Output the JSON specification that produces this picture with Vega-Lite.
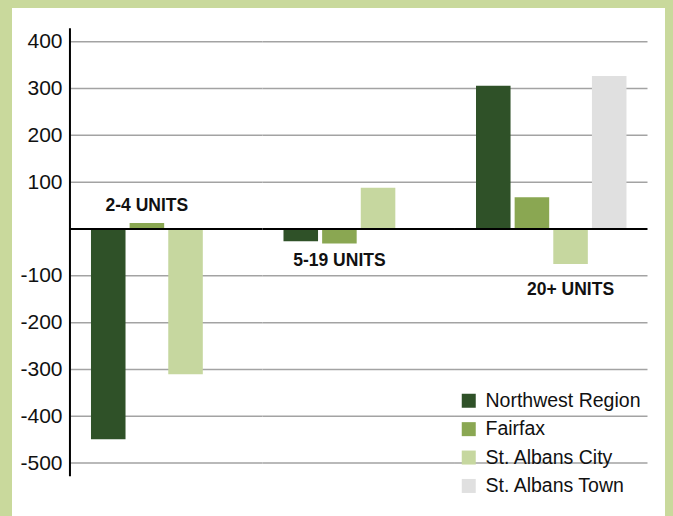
{
  "$schema": "https://vega.github.io/schema/vega-lite/v6.json",
  "width": 653,
  "height": 508,
  "autosize": {"type": "none"},
  "padding": {"left": 12, "right": 8, "top": 8, "bottom": 0},
  "background": "#c9d99c",
  "config": {
    "view": {"fill": "#ffffff", "stroke": null},
    "font": "Liberation Sans, Arial, sans-serif",
    "locale": {"number": {"decimal": ".", "thousands": ",", "grouping": [3], "currency": ["$", ""], "minus": "-"}}
  },
  "resolve": {"axis": {"y": "independent"}},
  "datasets": {
    "bars": [
      {"category": "2-4 UNITS", "series": "Northwest Region", "value": -449},
      {"category": "2-4 UNITS", "series": "Fairfax", "value": 13},
      {"category": "2-4 UNITS", "series": "St. Albans City", "value": -310},
      {"category": "5-19 UNITS", "series": "Northwest Region", "value": -26},
      {"category": "5-19 UNITS", "series": "Fairfax", "value": -31},
      {"category": "5-19 UNITS", "series": "St. Albans City", "value": 88},
      {"category": "20+ UNITS", "series": "Northwest Region", "value": 306},
      {"category": "20+ UNITS", "series": "Fairfax", "value": 68},
      {"category": "20+ UNITS", "series": "St. Albans City", "value": -75},
      {"category": "20+ UNITS", "series": "St. Albans Town", "value": 327}
    ],
    "grid": [
      {"g": 400, "cats": ["2-4 UNITS", "5-19 UNITS", "20+ UNITS"]},
      {"g": 300, "cats": ["2-4 UNITS", "5-19 UNITS", "20+ UNITS"]},
      {"g": 200, "cats": ["2-4 UNITS", "5-19 UNITS", "20+ UNITS"]},
      {"g": 100, "cats": ["2-4 UNITS", "5-19 UNITS", "20+ UNITS"]},
      {"g": -100, "cats": ["2-4 UNITS", "5-19 UNITS", "20+ UNITS"]},
      {"g": -200, "cats": ["2-4 UNITS", "5-19 UNITS", "20+ UNITS"]},
      {"g": -300, "cats": ["2-4 UNITS", "5-19 UNITS", "20+ UNITS"]},
      {"g": -400, "cats": ["2-4 UNITS", "5-19 UNITS", "20+ UNITS"]},
      {"g": -500, "cats": ["2-4 UNITS", "5-19 UNITS", "20+ UNITS"]}
    ],
    "zero": [
      {"g": 0, "cats": ["2-4 UNITS", "5-19 UNITS", "20+ UNITS"]}
    ],
    "yaxis": [
      {"first": "2-4 UNITS", "top": 429, "bottom": -528}
    ],
    "labels": [
      {"category": "2-4 UNITS", "series": "Fairfax", "label": "2-4 UNITS", "ly": 49},
      {"category": "5-19 UNITS", "series": "Fairfax", "label": "5-19 UNITS", "ly": -68},
      {"category": "20+ UNITS", "series": "St. Albans City", "label": "20+ UNITS", "ly": -130}
    ]
  },
  "layer": [
    {
      "data": {"name": "grid"},
      "transform": [{"flatten": ["cats"], "as": ["cat"]}],
      "mark": {"type": "rect", "fill": null, "stroke": "#a3a3a3", "strokeWidth": 1.5},
      "encoding": {
        "x": {
          "field": "cat", "type": "nominal",
          "scale": {"domain": ["2-4 UNITS", "5-19 UNITS", "20+ UNITS"], "paddingInner": 0, "paddingOuter": 0.196, "align": 0.768},
          "axis": null
        },
        "y": {
          "field": "g", "type": "quantitative",
          "scale": {"domain": [-613, 472], "nice": false, "zero": false},
          "axis": {
            "orient": "left",
            "values": [400, 300, 200, 100, -100, -200, -300, -400, -500],
            "grid": false, "domain": false, "ticks": false,
            "offset": -58, "labelPadding": 8, "title": null,
            "labelFont": "Liberation Sans, Arial, sans-serif",
            "labelFontSize": 21, "labelColor": "#111111"
          }
        },
        "y2": {"field": "g"}
      }
    },
    {
      "data": {"name": "bars"},
      "mark": {"type": "bar"},
      "encoding": {
        "x": {"field": "category", "type": "nominal", "axis": null},
        "xOffset": {
          "field": "series", "type": "nominal",
          "scale": {"domain": ["Northwest Region", "Fairfax", "St. Albans City", "St. Albans Town"], "paddingInner": 0.106, "paddingOuter": 0.544}
        },
        "y": {"field": "value", "type": "quantitative", "axis": null},
        "color": {
          "field": "series", "type": "nominal",
          "scale": {
            "domain": ["Northwest Region", "Fairfax", "St. Albans City", "St. Albans Town"],
            "range": ["#2f5128", "#8aa752", "#c6d79f", "#e0e0e0"]
          },
          "legend": {
            "orient": "none", "legendX": 447, "legendY": 383,
            "title": null, "padding": 0,
            "symbolType": "square", "symbolSize": 196, "symbolStrokeWidth": 0,
            "labelFontSize": 19.5, "labelColor": "#111111",
            "labelOffset": 7, "rowPadding": 7.4,
            "labelFont": "Liberation Sans, Arial, sans-serif"
          }
        }
      }
    },
    {
      "data": {"name": "zero"},
      "transform": [{"flatten": ["cats"], "as": ["cat"]}],
      "mark": {"type": "rect", "fill": null, "stroke": "#000000", "strokeWidth": 2},
      "encoding": {
        "x": {"field": "cat", "type": "nominal", "axis": null},
        "y": {"field": "g", "type": "quantitative", "axis": null},
        "y2": {"field": "g"}
      }
    },
    {
      "data": {"name": "yaxis"},
      "mark": {"type": "rule", "color": "#000000", "strokeWidth": 2},
      "encoding": {
        "x": {"field": "first", "type": "nominal", "bandPosition": 0, "axis": null},
        "y": {"field": "top", "type": "quantitative", "axis": null},
        "y2": {"field": "bottom"}
      }
    },
    {
      "data": {"name": "labels"},
      "mark": {
        "type": "text", "align": "center", "baseline": "middle",
        "font": "Liberation Sans, Arial, sans-serif",
        "fontWeight": "bold", "fontSize": 17.5, "color": "#111111"
      },
      "encoding": {
        "x": {"field": "category", "type": "nominal", "axis": null},
        "xOffset": {"field": "series", "type": "nominal"},
        "y": {"field": "ly", "type": "quantitative", "axis": null},
        "text": {"field": "label"}
      }
    }
  ]
}
